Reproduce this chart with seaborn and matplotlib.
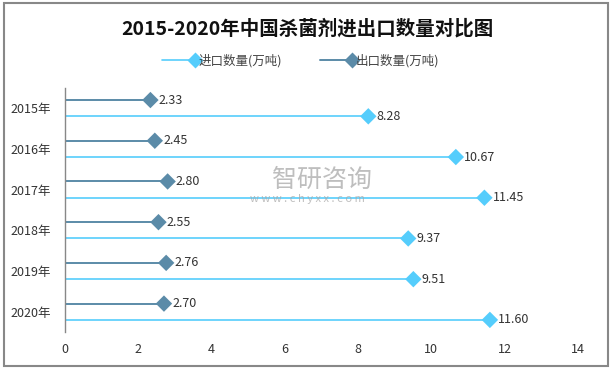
import numpy as np
import pandas as pd
import matplotlib.pyplot as plt
import seaborn as sns
from matplotlib.lines import Line2D
from matplotlib.patches import Rectangle
from matplotlib.legend_handler import HandlerLine2D

years = ['2015年', '2016年', '2017年', '2018年', '2019年', '2020年']
import_qty = [8.28, 10.67, 11.45, 9.37, 9.51, 11.60]
export_qty = [2.33, 2.45, 2.80, 2.55, 2.76, 2.70]
import_name = '进口数量(万吨)'
export_name = '出口数量(万吨)'
x_ticks = [0, 2, 4, 6, 8, 10, 12, 14]

import_color = '#55cdfc'
export_color = '#5b8ba8'

sns.set_theme(style="white")
plt.rcParams['font.family'] = ['Noto Sans CJK SC', 'DejaVu Sans']


class EndMarkerHandler(HandlerLine2D):
    # legend line with the diamond sitting on its right end
    def create_artists(self, legend, orig_handle, xdescent, ydescent,
                       width, height, fontsize, trans):
        arts = super().create_artists(legend, orig_handle, xdescent, ydescent,
                                      width, height, fontsize, trans)
        for a in arts:
            if len(a.get_xdata()) == 3:
                a.set_markevery([2])
        return arts


pos = np.arange(len(years))
df = pd.DataFrame({
    'year': years * 2,
    'y': np.concatenate([pos - 0.2, pos + 0.2]),
    'value': export_qty + import_qty,
    'series': [export_name] * len(years) + [import_name] * len(years),
})

fig = plt.figure(figsize=(6.14, 3.69), dpi=100)
ax = fig.add_axes([0.106, 0.100, 0.835, 0.662])

for name, color, lw in [(export_name, export_color, 1.4), (import_name, import_color, 1.2)]:
    sub = df[df['series'] == name]
    ax.hlines(sub['y'], 0, sub['value'], color=color, lw=lw, zorder=2)

sns.scatterplot(data=df, x='value', y='y', hue='series', marker='D', s=70,
                palette={export_name: export_color, import_name: import_color},
                edgecolor='none', legend=False, ax=ax, zorder=3)

for _, r in df.iterrows():
    ax.annotate(f"{r['value']:.2f}", (r['value'], r['y']), xytext=(6, 0),
                textcoords='offset points', va='center', ha='left',
                fontsize=9, color='#333333')

ax.set_xlim(0, 14)
ax.set_ylim(5.5, -0.5)
ax.set_xticks(x_ticks)
ax.set_xticklabels([str(t) for t in x_ticks], fontsize=9, color='#333333')
ax.set_yticks(pos)
ax.set_yticklabels(years, fontsize=9, color='#333333')
ax.tick_params(axis='both', length=0, pad=8)
ax.tick_params(axis='y', pad=10)
ax.set_xlabel('')
ax.set_ylabel('')
for s in ['top', 'right', 'bottom']:
    ax.spines[s].set_visible(False)
ax.spines['left'].set_color('#888888')
ax.spines['left'].set_linewidth(1)

handles = [
    Line2D([0, 1], [0, 0], color=import_color, lw=1.2, marker='D', markersize=8,
           markeredgecolor='none'),
    Line2D([0, 1], [0, 0], color=export_color, lw=1.4, marker='D', markersize=8,
           markeredgecolor='none'),
]
fig.legend(handles, [import_name, export_name], loc='center', bbox_to_anchor=(0.49, 0.835),
           ncol=2, frameon=False, numpoints=1, fontsize=9, handlelength=2.6,
           handletextpad=0.3, columnspacing=3.0, labelcolor='#444444',
           handler_map={Line2D: EndMarkerHandler()})

fig.suptitle('2015-2020年中国杀菌剂进出口数量对比图', x=0.5, y=0.95,
             fontsize=14, fontweight='bold', color='#111111')

# watermark
fig.text(0.524, 0.512, '智研咨询', ha='center', va='center', fontsize=18,
         color='#a8a8a8', alpha=0.75)
fig.text(0.500, 0.462, 'w w w . c h y x x . c o m', ha='center', va='center',
         fontsize=8, color='#a8a8a8', alpha=0.75)

fig.add_artist(Rectangle((0.007, 0.008), 0.983, 0.984, transform=fig.transFigure,
                         fill=False, edgecolor='#888888', lw=1.5))

fig.savefig('out.png', dpi=100)
